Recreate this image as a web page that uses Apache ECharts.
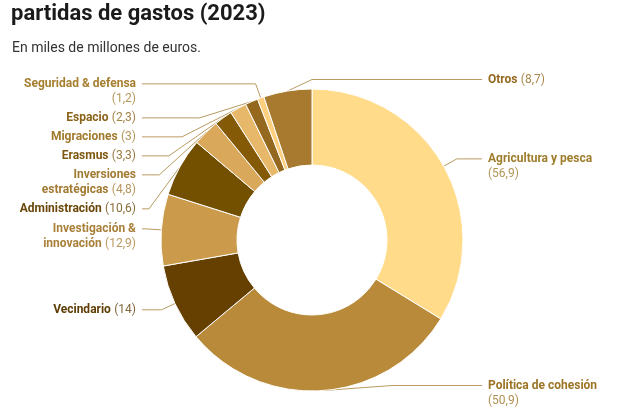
<!DOCTYPE html>
<html>
<head>
<meta charset="utf-8">
<script src="https://cdn.jsdelivr.net/npm/echarts@6/dist/echarts.min.js"></script>
<style>
  html, body { margin: 0; padding: 0; background: #fff; }
  #chart { width: 624px; height: 416px; }
</style>
</head>
<body>
<div id="chart"></div>
<script>
// datos (miles de millones de euros), en el orden del gráfico
const names = [
    'Agricultura y pesca',
    'Política de cohesión',
    'Vecindario',
    'Investigación & innovación',
    'Administración',
    'Inversiones estratégicas',
    'Erasmus',
    'Migraciones',
    'Espacio',
    'Seguridad & defensa',
    'Otros'
];
const values = [56.9, 50.9, 14, 12.9, 10.6, 4.8, 3.3, 3, 2.3, 1.2, 8.7];

// estilos
const sliceColors = ['#ffdb8a', '#b98a3a', '#654000', '#cc9a4b', '#734f00', '#d9a85b',
    '#845a06', '#e8b86a', '#956820', '#ffcf80', '#a87a30'];
const textColors = ['#9e7d2c', '#9c7426', '#5e3d05', '#a9803a', '#6a4708', '#a27b33',
    '#7e5710', '#a17a2e', '#8b6319', '#a57e2e', '#94681e'];
const labelText = {
    'Investigación & innovación': 'Investigación &\ninnovación',
    'Inversiones estratégicas': 'Inversiones\nestratégicas'
};
const valueOnNewLine = ['Seguridad & defensa', 'Agricultura y pesca', 'Política de cohesión'];
const rightSide = ['Agricultura y pesca', 'Política de cohesión', 'Otros'];

const CX = 312, CY = 240, R0 = 75, R1 = 151;
const LINE_H = 15, GAP = 4, ELBOW_R = R1 + 15, TOP = 72, BOTTOM = 408;

function lineCount(name) {
    let n = (labelText[name] || name).split('\n').length;
    if (valueOnNewLine.indexOf(name) >= 0) n++;
    return n;
}

// posiciones de etiquetas: se apilan por lado para no solaparse
function computeLabels() {
    const total = values.reduce((a, b) => a + b, 0);
    let acc = 0;
    const items = values.map(function (v, i) {
        const mid = (acc + v / 2) / total * 2 * Math.PI;
        acc += v;
        return {
            ax: CX + R1 * Math.sin(mid),
            ay: CY - R1 * Math.cos(mid),
            side: rightSide.indexOf(names[i]) >= 0 ? 1 : -1,
            lines: lineCount(names[i]),
            y: CY - ELBOW_R * Math.cos(mid)
        };
    });
    [1, -1].forEach(function (side) {
        const list = items.filter(d => d.side === side).sort((a, b) => a.y - b.y);
        let prev = null;
        list.forEach(function (d) {
            d.y = Math.max(d.y, TOP + LINE_H / 2);
            if (prev) d.y = Math.max(d.y, prev.y + prev.lines * LINE_H + GAP);
            prev = d;
        });
        let limit = BOTTOM;
        for (let k = list.length - 1; k >= 0; k--) {
            const d = list[k];
            const maxY = limit - d.lines * LINE_H + LINE_H / 2;
            if (d.y > maxY) d.y = maxY;
            limit = d.y - LINE_H / 2 - GAP;
        }
    });
    items.forEach(function (d) {
        const dy = d.y - CY;
        let ex = CX + d.side * Math.sqrt(Math.max(0, ELBOW_R * ELBOW_R - dy * dy));
        if ((d.ax - CX) * d.side < 0) ex = CX;
        const lineEnd = CX + d.side * 170;
        d.points = [[d.ax, d.ay], [ex, d.y], [lineEnd, d.y]];
        d.x = lineEnd + d.side * 6;
    });
    return items;
}
const labelPos = computeLabels();

const pieData = names.map(function (n, i) {
    return {
        name: n,
        value: values[i],
        itemStyle: { color: sliceColors[i] },
        label: {
            rich: {
                n: { fontWeight: 'bold', color: textColors[i], fontSize: 12, lineHeight: LINE_H, fontFamily: 'Roboto' },
                v: { color: textColors[i], opacity: 0.8, fontSize: 12, lineHeight: LINE_H, fontFamily: 'Roboto' }
            }
        }
    };
});

let myChart = echarts.init(document.getElementById('chart'), null, { renderer: 'canvas' });
let option = {
    backgroundColor: '#ffffff',
    animation: false,
    title: [
        {
            text: 'partidas de gastos (2023)',
            left: 11,
            top: 3,
            padding: 0,
            textStyle: { fontFamily: 'Roboto', fontSize: 22, fontWeight: 'bold', color: '#1b1b1b' }
        },
        {
            text: 'En miles de millones de euros.',
            left: 12,
            top: 41,
            padding: 0,
            textStyle: { fontFamily: 'Roboto', fontSize: 14, fontWeight: 'normal', color: '#333333' }
        }
    ],
    series: [
        {
            type: 'pie',
            center: [CX, CY],
            radius: [R0, R1],
            startAngle: 90,
            clockwise: true,
            avoidLabelOverlap: false,
            itemStyle: { borderColor: '#ffffff', borderWidth: 1 },
            label: {
                show: true,
                position: 'outside',
                formatter: function (p) {
                    const txt = (labelText[p.name] || p.name).split('\n').map(s => '{n|' + s + '}').join('\n');
                    const sep = valueOnNewLine.indexOf(p.name) >= 0 ? '\n' : ' ';
                    return txt + sep + '{v|(' + String(p.value).replace('.', ',') + ')}';
                }
            },
            labelLine: {
                show: true,
                length: 10,
                length2: 10,
                lineStyle: { color: '#b99b62', width: 1 }
            },
            labelLayout: function (params) {
                const d = labelPos[params.dataIndex];
                return {
                    x: d.x,
                    y: d.y - LINE_H / 2,
                    align: d.side > 0 ? 'left' : 'right',
                    verticalAlign: 'top',
                    labelLinePoints: d.points
                };
            },
            emphasis: { disabled: true },
            data: pieData
        }
    ]
};
myChart.setOption(option);
</script>
</body>
</html>
